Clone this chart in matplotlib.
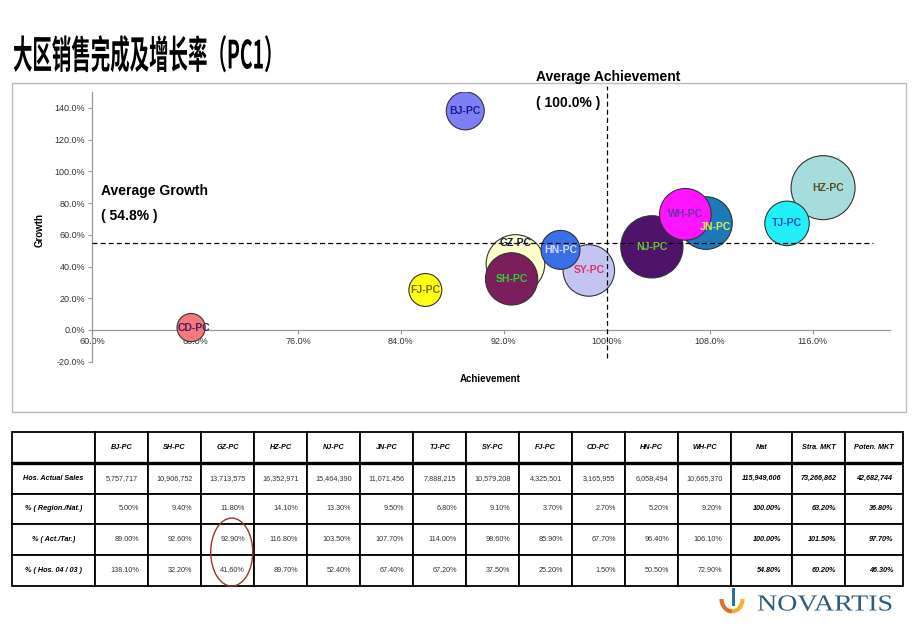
import numpy as np
import matplotlib
matplotlib.use("Agg")
import matplotlib.pyplot as plt
import matplotlib.patheffects as pe
from matplotlib.patches import Rectangle, Ellipse, Arc
from matplotlib.table import Table
from matplotlib.transforms import Affine2D

plt.rcParams['font.family'] = ['Liberation Sans', 'Noto Sans CJK SC', 'DejaVu Sans']

# data
regions = ["BJ-PC", "SH-PC", "GZ-PC", "HZ-PC", "NJ-PC", "JN-PC", "TJ-PC",
           "SY-PC", "FJ-PC", "CD-PC", "HN-PC", "WH-PC"]
totals = ["Nat", "Stra. MKT", "Poten. MKT"]
row_names = ["Hos. Actual Sales", "% ( Region./Nat.)", "% ( Act./Tar.)", "% ( Hos. 04 / 03 )"]

sales = [5757717, 10906752, 13713575, 16352971, 15464390, 11071456, 7888215,
         10579208, 4325501, 3165955, 6058494, 10665370]
share = [5.00, 9.40, 11.80, 14.10, 13.30, 9.50, 6.80, 9.10, 3.70, 2.70, 5.20, 9.20]
achievement = [89.00, 92.60, 92.90, 116.80, 103.50, 107.70, 114.00, 98.60, 85.90,
               67.70, 96.40, 106.10]
growth = [138.10, 32.20, 41.60, 89.70, 52.40, 67.40, 67.20, 37.50, 25.20, 1.50,
          50.50, 72.90]

total_sales = [115949606, 73266862, 42682744]
total_share = [100.00, 63.20, 36.80]
total_ach = [100.00, 101.50, 97.70]
total_growth = [54.80, 60.20, 46.30]

avg_ach = total_ach[0]
avg_growth = total_growth[0]

fill_colors = ["#7F7FF5", "#7A1F5C", "#FFFFCC", "#A6DCDC", "#4F136B", "#1C7AB8",
               "#22F0F8", "#C4C4F2", "#FFFF14", "#F27A7A", "#3A6FE8", "#FF14FF"]
label_colors = ["#1A1A99", "#33CC33", "#1A1A4D", "#5C4A1F", "#66CC33", "#DDEE55",
                "#1F4FBF", "#E0306A", "#7A6A00", "#4D1A66", "#D0E0FF", "#6633AA"]
# label nudges in points (a few labels were moved by hand on the slide)
label_offsets = {"GZ-PC": (0, 15), "JN-PC": (6.5, -3), "CD-PC": (2, 0), "HZ-PC": (3.5, 0)}


class Squeeze(pe.AbstractPathEffect):  # scale glyphs sideways (condensed / wide fonts)
    def __init__(self, sx):
        super().__init__()
        self.sx = sx

    def draw_path(self, renderer, gc, tpath, affine, rgbFace=None):
        renderer.draw_path(gc, tpath, Affine2D().scale(self.sx, 1) + affine, rgbFace)


W, H = 920, 637
fig = plt.figure(figsize=(9.2, 6.37), dpi=100)


def fx(px):
    return px / W


def fy(py):
    return 1 - py / H


fig.text(fx(13), fy(57), "大区销售完成及增长率（PC1）", fontsize=28, fontweight="bold",
         family=["Noto Sans CJK SC", "DejaVu Sans"], ha="left", va="center",
         path_effects=[Squeeze(0.5)])

# chart frame
fig.patches.append(Rectangle((fx(12), fy(412)), fx(906) - fx(12), fy(83) - fy(412),
                             transform=fig.transFigure, fill=False,
                             edgecolor="#BBBBBB", lw=1))

ax = fig.add_axes([fx(92), fy(361.7), fx(890) - fx(92), fy(92) - fy(361.7)])
ax.set_xlim(60, 122)
ax.set_ylim(-20, 150)
for s in ["top", "right"]:
    ax.spines[s].set_visible(False)
ax.spines["bottom"].set_position(("data", 0))
for s in ["left", "bottom"]:
    ax.spines[s].set_color("#999999")
    ax.spines[s].set_linewidth(0.9)
ax.set_facecolor("none")

xt = np.arange(60, 117, 8)
yt = np.arange(-20, 141, 20)
ax.set_xticks(xt)
ax.set_xticklabels([f"{v:.1f}%" for v in xt])
ax.set_yticks(yt)
ax.set_yticklabels([f"{v:.1f}%" for v in yt])
ax.tick_params(direction="out", length=3, width=0.8, color="#999999",
               labelsize=6.5, labelcolor="#333333", pad=2)

# bubbles: bigger ones first so the small ones sit on top
order = np.argsort(sales)[::-1]
ax.scatter(np.array(achievement)[order], np.array(growth)[order],
           s=np.array(sales)[order] / 7700,
           c=[fill_colors[i] for i in order], edgecolors="#333333",
           linewidths=0.8, zorder=3)

for i, name in enumerate(regions):
    ax.annotate(name, (achievement[i], growth[i]), xytext=label_offsets.get(name, (0, 0)),
                textcoords="offset points", ha="center", va="center",
                fontsize=7.5, fontweight="bold", color=label_colors[i], zorder=6)

ax.axhline(avg_growth, xmin=0, xmax=(120.7 - 60) / 62, color="black", lw=0.9,
           ls=(0, (4, 2.5)), zorder=4)
ax.axvline(avg_ach, ymin=2.4 / 170, ymax=173.7 / 170, color="black", lw=0.9,
           ls=(0, (4, 2.5)), zorder=4, clip_on=False)

fig.text(fx(490), fy(379), "Achievement", fontsize=7, fontweight="bold",
         ha="center", va="center")
fig.text(fx(40), fy(230), "Growth", fontsize=7, fontweight="bold",
         ha="center", va="center", rotation=90)
fig.text(fx(536), fy(77), "Average Achievement", fontsize=10, fontweight="bold",
         ha="left", va="center")
fig.text(fx(536), fy(103), f"( {avg_ach:.1f}% )", fontsize=10, fontweight="bold",
         ha="left", va="center")
fig.text(fx(101), fy(191), "Average Growth", fontsize=10, fontweight="bold",
         ha="left", va="center")
fig.text(fx(101), fy(216), f"( {avg_growth:.1f}% )", fontsize=10, fontweight="bold",
         ha="left", va="center")

# table
tx0, tx1, ty0, ty1 = 12, 903, 432, 586
tab_ax = fig.add_axes([fx(tx0), fy(ty1), fx(tx1) - fx(tx0), fy(ty0) - fy(ty1)])
tab_ax.axis("off")
col_px = [83] + [53] * 12 + [61, 53, 58]
col_w = [c / sum(col_px) for c in col_px]
row_h = 1 / 5

headers = [""] + regions + totals
rows = [
    [f"{v:,}" for v in sales + total_sales],
    [f"{v:.2f}%" for v in share + total_share],
    [f"{v:.2f}%" for v in achievement + total_ach],
    [f"{v:.2f}%" for v in growth + total_growth],
]

tab = Table(tab_ax, bbox=[0, 0, 1, 1])
for c, h in enumerate(headers):
    cell = tab.add_cell(0, c, col_w[c], row_h, text=h, loc="center",
                        edgecolor="black", facecolor="white")
    cell.set_linewidth(1.3)
    cell.get_text().set(fontsize=5.2, fontweight="bold", fontstyle="italic")
for r, vals in enumerate(rows, start=1):
    cell = tab.add_cell(r, 0, col_w[0], row_h, text=row_names[r - 1], loc="center",
                        edgecolor="black", facecolor="white")
    cell.set_linewidth(1.3)
    cell.get_text().set(fontsize=5.2, fontweight="bold", fontstyle="italic")
    for c, v in enumerate(vals, start=1):
        loc = "center" if r == 1 else "right"
        cell = tab.add_cell(r, c, col_w[c], row_h, text=v, loc=loc,
                            edgecolor="black", facecolor="white")
        cell.set_linewidth(1.3)
        cell.PAD = 0.17
        is_total = c > len(regions)
        cell.get_text().set(fontsize=5.2, color="black" if is_total else "#333333",
                            fontweight="bold" if is_total else "normal",
                            fontstyle="italic" if is_total else "normal")
tab.auto_set_font_size(False)
tab_ax.add_table(tab)
tab_ax.axhline(1 - row_h, color="black", lw=2.4, zorder=5)

# red ring around GZ-PC achievement / growth
gz_x = (sum(col_px[:3]) + col_px[3] * 0.58) / sum(col_px)
tab_ax.add_patch(Ellipse((gz_x, 0.22), 42 / sum(col_px), 68 / (ty1 - ty0),
                         fill=False, edgecolor="#A0302A", lw=1, clip_on=False, zorder=6))

# Novartis logo
fig.text(fx(757), fy(605), "NOVARTIS", fontsize=16.5, family="Liberation Serif",
         color="#2D5B7B", ha="left", va="center", path_effects=[Squeeze(1.22)])
logo_ax = fig.add_axes([fx(718), fy(617), fx(746) - fx(718), fy(588) - fy(617)])
logo_ax.set_xlim(0, 1)
logo_ax.set_ylim(0, 1)
logo_ax.axis("off")
logo_ax.add_patch(Arc((0.5, 0.62), 0.75, 0.85, theta1=180, theta2=270,
                      color="#E0702A", lw=3))
logo_ax.add_patch(Arc((0.5, 0.62), 0.75, 0.85, theta1=270, theta2=360,
                      color="#F2B02E", lw=3))
logo_ax.plot([0.55, 0.55], [0.45, 1.0], color="#2D6FA0", lw=2.2)

fig.savefig("out.png", dpi=100)
